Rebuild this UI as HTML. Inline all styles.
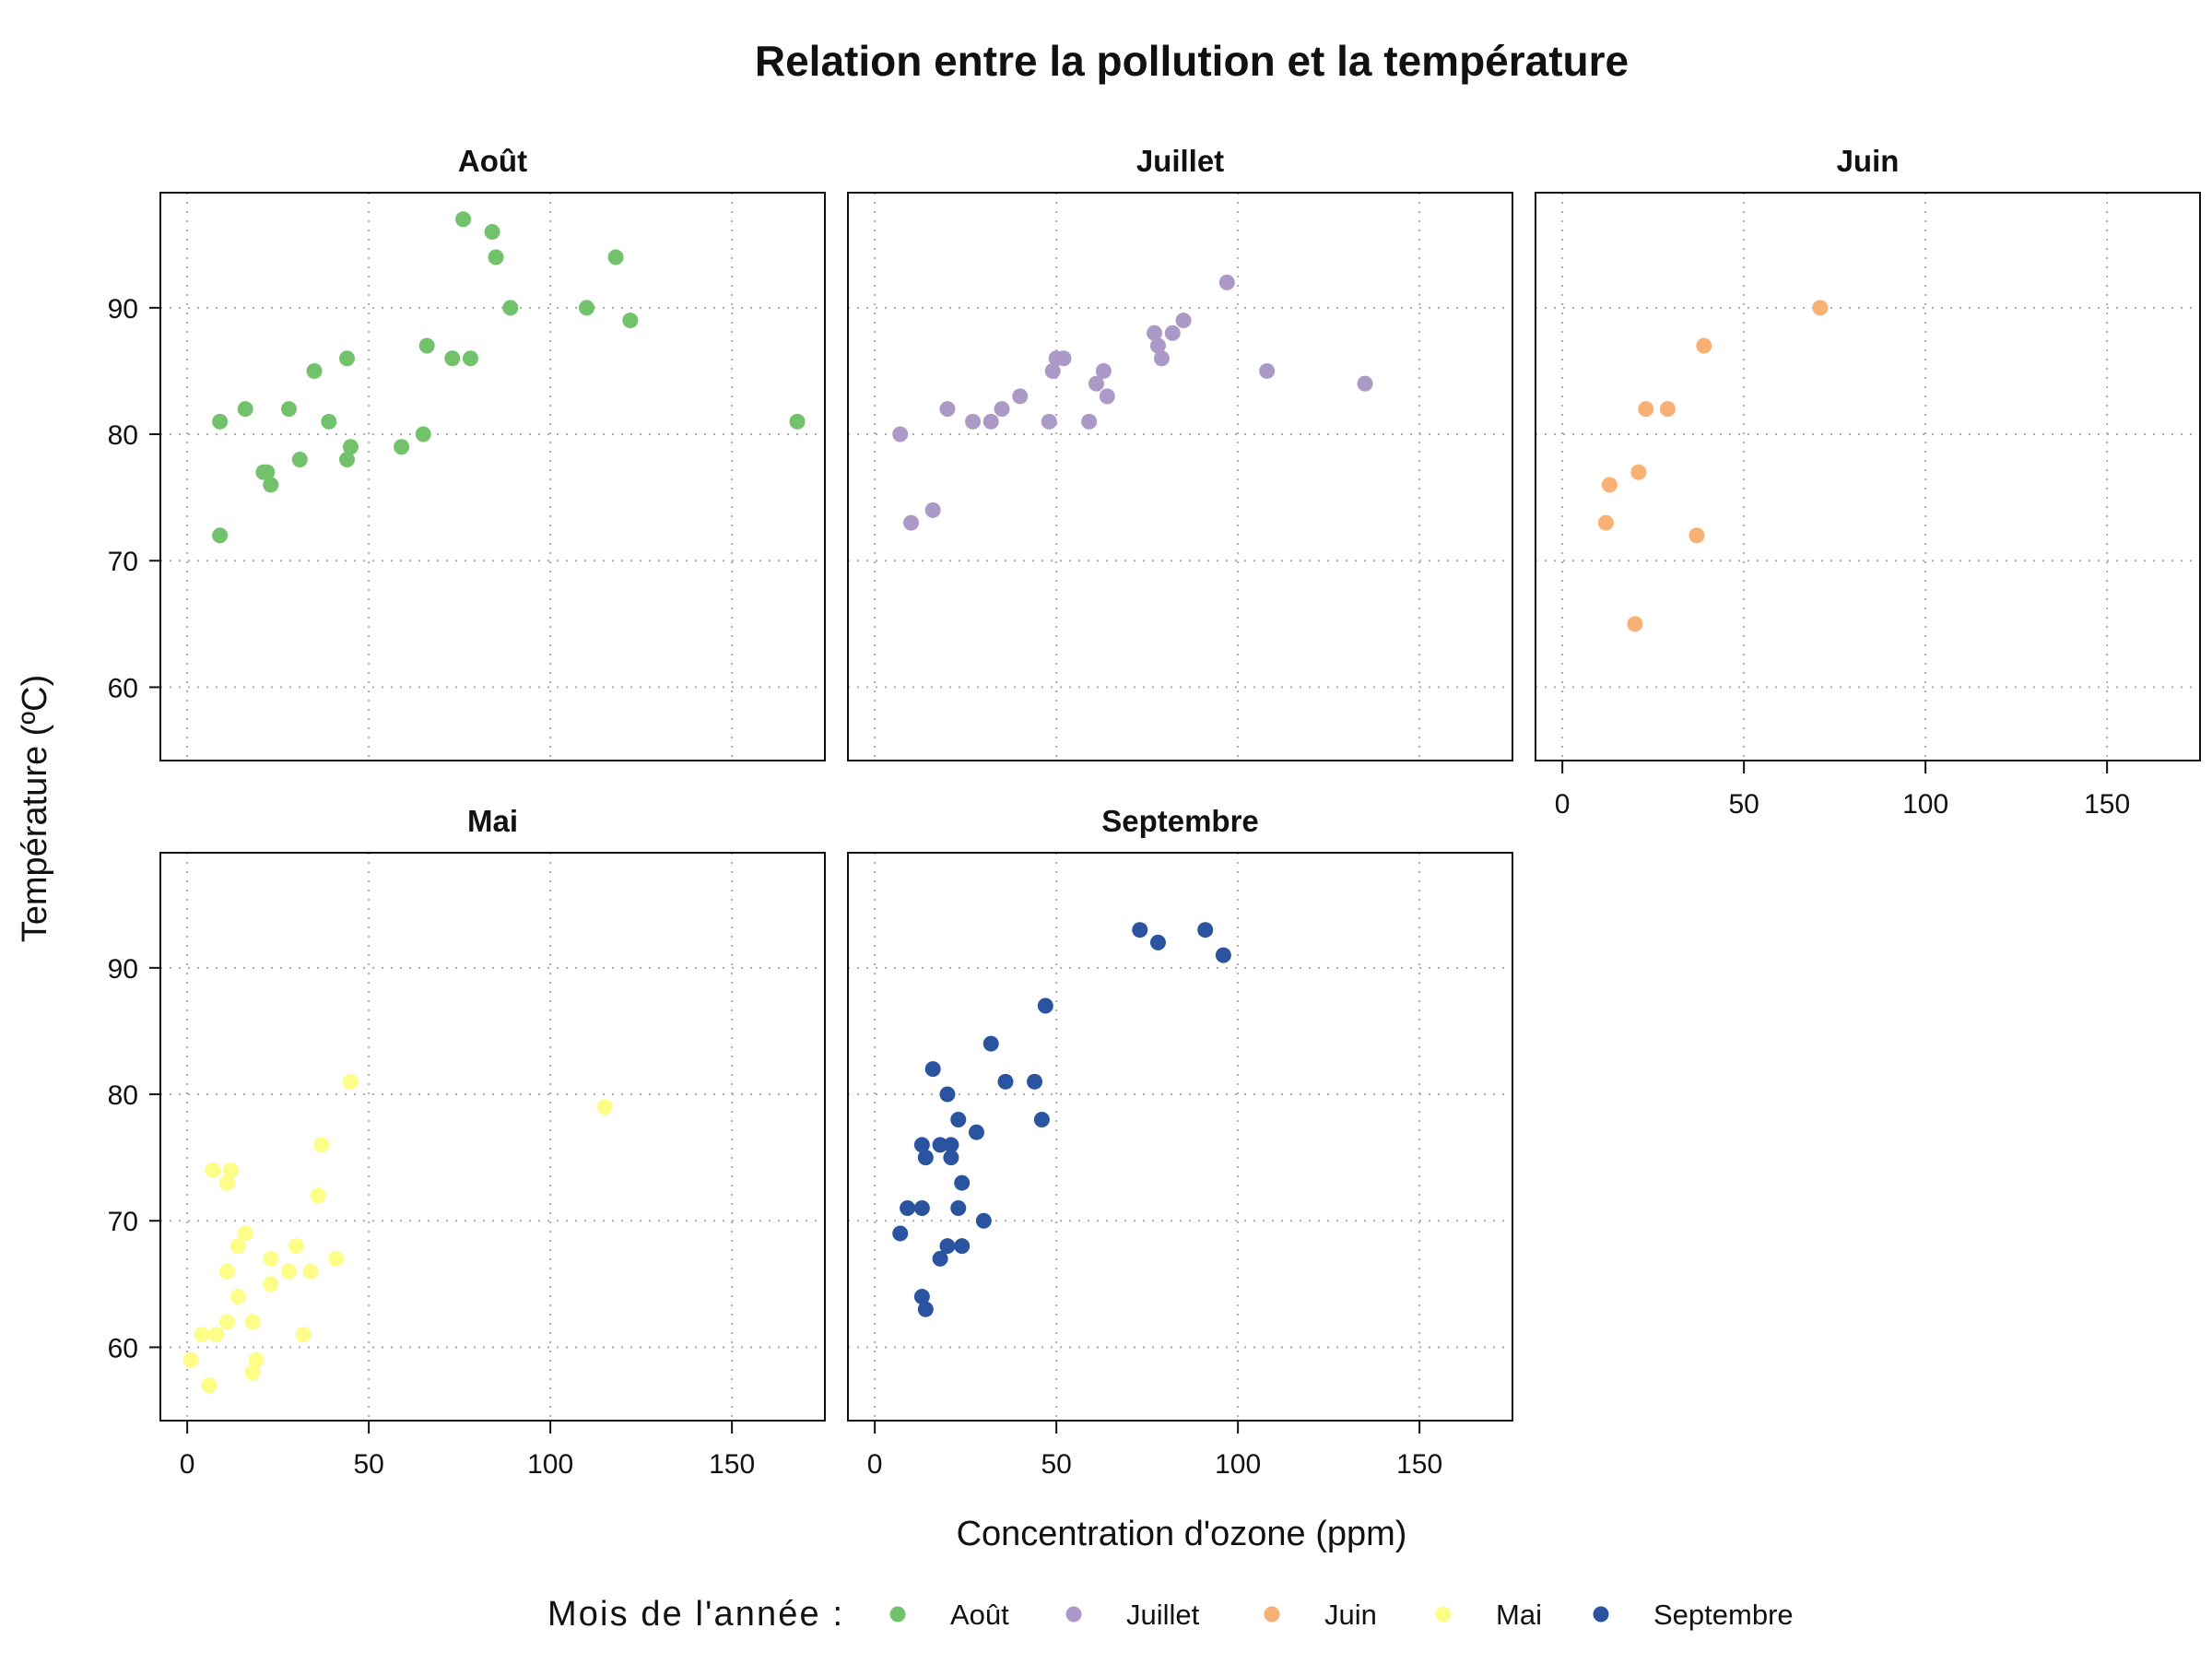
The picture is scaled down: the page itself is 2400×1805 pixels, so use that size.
<!DOCTYPE html>
<html><head><meta charset="utf-8"><style>
html,body{margin:0;padding:0;background:#fff;}
svg text{font-family:"Liberation Sans",sans-serif;}
</style></head><body>
<svg id="chart" xmlns="http://www.w3.org/2000/svg" width="2400" height="1800" viewBox="0 0 2400 1800">
<rect width="2400" height="1800" fill="#fff"/>
<text x="1293" y="82" text-anchor="middle" font-size="46" font-weight="bold" fill="#111">Relation entre la pollution et la température</text>
<text transform="translate(50,877) rotate(-90)" text-anchor="middle" font-size="38" fill="#111">Température (ºC)</text>
<text x="1282" y="1676" text-anchor="middle" font-size="38" fill="#111">Concentration d'ozone (ppm)</text>
<g id="panels"></g>
<g id="legend"></g>
</svg>
<script>
const months = ["Août","Juillet","Juin","Mai","Septembre"];
const colors = ["#72c26c","#ab99c8","#f8b074","#fdfd88","#2a53a0"];
const xTicks = [0,50,100,150];
const yTicks = [60,70,80,90];
const aoutX = [9,16,28,35,39,44,45,44,31,21,22,23,9,59,65,66,73,78,76,84,85,89,110,118,122,168];
const aoutY = [81,82,82,85,81,86,79,78,78,77,77,76,72,79,80,87,86,86,97,96,94,90,90,94,89,81];
const juilletX = [7,10,16,20,27,32,35,40,48,49,50,52,59,61,63,64,77,78,79,82,85,97,108,135];
const juilletY = [80,73,74,82,81,81,82,83,81,85,86,86,81,84,85,83,88,87,86,88,89,92,85,84];
const juinX = [12,13,20,21,23,29,37,39,71];
const juinY = [73,76,65,77,82,82,72,87,90];
const maiX = [1,4,6,7,8,11,11,11,12,14,14,16,18,18,19,23,23,28,30,32,34,36,37,41,45,115];
const maiY = [59,61,57,74,61,66,62,73,74,68,64,69,62,58,59,67,65,66,68,61,66,72,76,67,81,79];
const septX = [7,9,13,13,13,14,14,16,18,18,20,20,21,21,23,23,24,24,28,30,32,36,44,46,47,73,78,91,96];
const septY = [69,71,71,76,64,63,75,82,76,67,80,68,76,75,78,71,73,68,77,70,84,81,81,78,87,93,92,93,91];
const seriesX = [aoutX,juilletX,juinX,maiX,septX];
const seriesY = [aoutY,juilletY,juinY,maiY,septY];

const NS="http://www.w3.org/2000/svg";
const PW=721, PH=616, XMIN=-7.4, XMAX=175.6, YMIN=54.2, YMAX=99.1;
const lefts=[174,920,1666,174,920], tops=[209,209,209,925,925];
const showX=[false,false,true,true,true], showY=[true,false,false,true,false];
function mk(tag,attrs,parent){const e=document.createElementNS(NS,tag);for(const k in attrs)e.setAttribute(k,attrs[k]);parent.appendChild(e);return e;}
const root=document.getElementById('panels');
months.forEach((m,i)=>{
  const L=lefts[i],T=tops[i];
  const sx=v=>L+(v-XMIN)/(XMAX-XMIN)*PW;
  const sy=v=>T+PH-(v-YMIN)/(YMAX-YMIN)*PH;
  const g=mk('g',{},root);
  
  
  const st=mk('text',{x:L+PW/2,y:T-23,'text-anchor':'middle','font-size':'33','font-weight':'bold',fill:'#111'},g);
  st.textContent=m;
  
  
  xTicks.forEach(t=>{const l=mk('line',{x1:sx(t),x2:sx(t),y1:T,y2:T+PH,stroke:'#aaa','stroke-width':2,'stroke-dasharray':'2 8'},g);
    });
  yTicks.forEach(t=>{const l=mk('line',{x1:L,x2:L+PW,y1:sy(t),y2:sy(t),stroke:'#aaa','stroke-width':2,'stroke-dasharray':'2 8'},g);
    });
  const fr=mk('rect',{x:L,y:T,width:PW,height:PH,fill:'none',stroke:'#111','stroke-width':2},g);
  
  if(showX[i]) xTicks.forEach(t=>{
    const tk=mk('line',{x1:sx(t),x2:sx(t),y1:T+PH,y2:T+PH+14,stroke:'#111','stroke-width':2},g);
    
    const tx=mk('text',{x:sx(t),y:T+PH+57,'text-anchor':'middle','font-size':'30',fill:'#111'},g);
    tx.textContent=t;});
  if(showY[i]) yTicks.forEach(t=>{
    const tk=mk('line',{x1:L-12,x2:L,y1:sy(t),y2:sy(t),stroke:'#111','stroke-width':2},g);
    
    const tx=mk('text',{x:L-24,y:sy(t)+11,'text-anchor':'end','font-size':'30',fill:'#111'},g);
    tx.textContent=t;});
  seriesX[i].forEach((xv,j)=>{
    const c=mk('circle',{cx:sx(xv),cy:sy(seriesY[i][j]),r:8.5,fill:colors[i]},g);
    
    });
});
const lg=document.getElementById('legend');
const lt=mk('text',{x:594,y:1763,'font-size':'38',fill:'#111','text-anchor':'start',textLength:'320'},lg);
lt.textContent="Mois de l'année :";

const legX=[974,1165,1380,1566,1737];
months.forEach((m,i)=>{
  const e=mk('g',{},lg);
  
  
  mk('circle',{cx:legX[i],cy:1751,r:8.5,fill:colors[i]},e);
  const t=mk('text',{x:legX[i]+57,y:1762,'font-size':'31',fill:'#111'},e);
  t.textContent=m;
});
</script>
</body></html>
